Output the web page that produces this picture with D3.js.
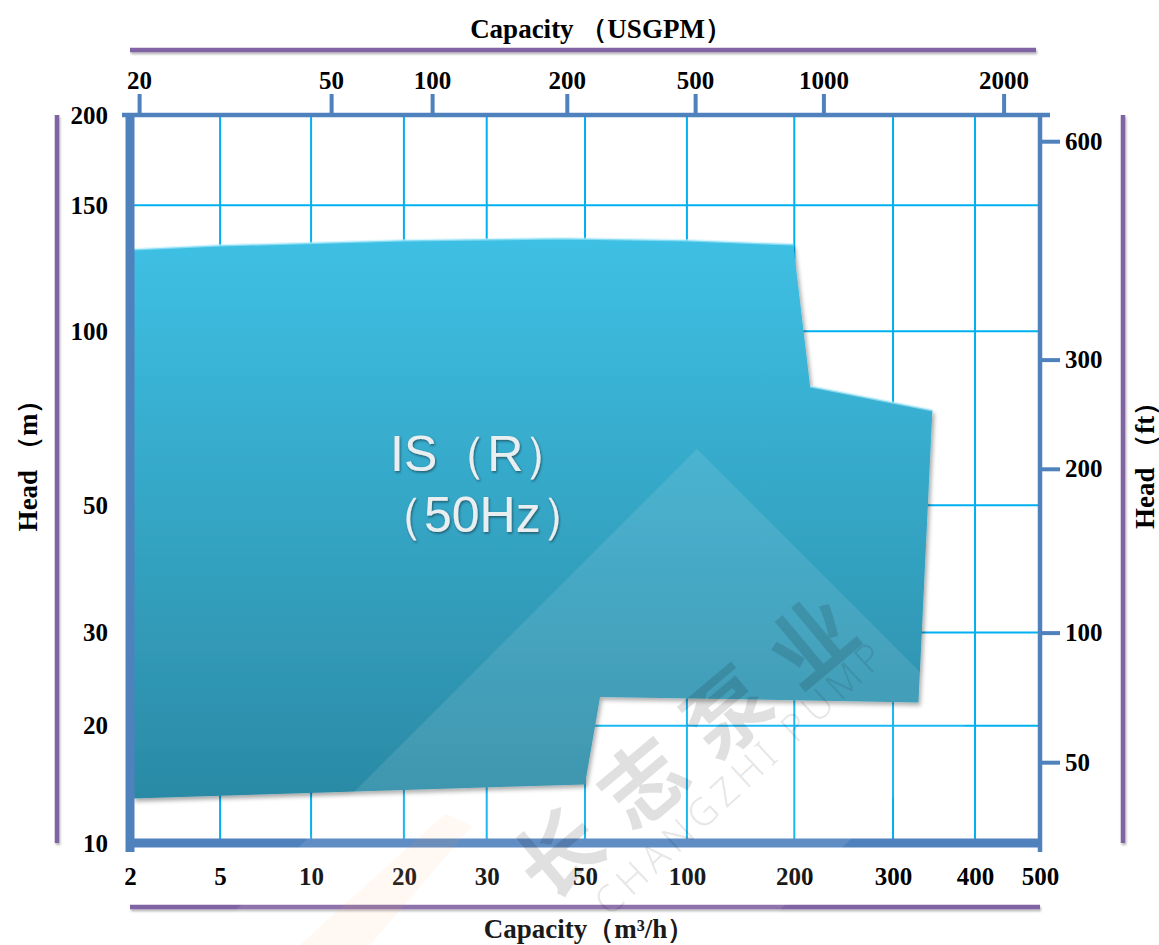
<!DOCTYPE html>
<html>
<head>
<meta charset="utf-8">
<script src="https://cdn.jsdelivr.net/npm/d3@7"></script>
<style>
body { margin: 0; background: #fff; }
.axis .tick text {
	font-family: "Liberation Serif", "Times New Roman", serif;
	font-weight: bold;
	font-size: 25px;
	fill: #000;
}
.axis-title {
	font-family: "Liberation Serif", "Times New Roman", serif;
	font-weight: bold;
	font-size: 27px;
	fill: #000;
}
</style>
</head>
<body>
<svg id="chart" width="1159" height="945"></svg>
<script>
var capacityTicks = [2, 5, 10, 20, 30, 50, 100, 200, 300, 400, 500];
var headTicks = [10, 20, 30, 50, 100, 150, 200];
var headFtTicks = [50, 100, 200, 300, 600];
var usgpmTicks = [20, 50, 100, 200, 500, 1000, 2000];

// envelope of the pump range, clockwise from top left (m3/h, m)
var envCapacity = [2.13, 5, 20, 45, 100, 199, 216, 348, 331, 57.4, 50, 2.1];
var envHead = [132.5, 134.1, 136.1, 136.9, 136.1, 134.5, 84.2, 77.3, 22.5, 23.1, 15.0, 13.8];

var modelLabel = ["IS（R）", "（50Hz）"];

var margin = {left: 130, top: 115};
var width = 910, height = 728;
var axisBlue = "#4f81bd", gridBlue = "#00b0f0", purple = "#8064a2";

// the sheet is hand drawn: ticks sit where the artist put them,
// so every scale is piecewise between its own ticks
var capStops = [0, .099, .199, .301, .392, .500, .612, .730, .8385, .9286, 1];
var headStops = [0, .161, .289, .464, .703, .876, 1];
var ftStops = [.111, .289, .514, .664, .964];
var gpmStops = [.010, .221, .332, .480, .621, .762, .960];

var x = d3.scaleLinear().domain(capacityTicks)
	.range(capStops.map(function(f){ return f * width; }));
var y = d3.scaleLinear().domain(headTicks)
	.range(headStops.map(function(f){ return height - f * height; }));
var yFt = d3.scaleLinear().domain(headFtTicks)
	.range(ftStops.map(function(f){ return height - f * height; }));
var xGpm = d3.scaleLinear().domain(usgpmTicks)
	.range(gpmStops.map(function(f){ return f * width; }));

var svg = d3.select("#chart");
var defs = svg.append("defs");

var grad = defs.append("linearGradient").attr("id", "fillGrad")
	.attr("x1", 0).attr("y1", 0).attr("x2", 0).attr("y2", 1);
grad.append("stop").attr("offset", "0%").attr("stop-color", "#3ec0e4");
grad.append("stop").attr("offset", "100%").attr("stop-color", "#2b8aa5");

var shadow = defs.append("filter").attr("id", "shadow")
	.attr("x", "-5%").attr("y", "-5%").attr("width", "110%").attr("height", "110%");
shadow.append("feDropShadow").attr("dx", 2).attr("dy", 3)
	.attr("stdDeviation", 2).attr("flood-color", "#000").attr("flood-opacity", 0.35);

// straight bars have a zero-size box, so this one works in page units
var lineShadow = defs.append("filter").attr("id", "lineShadow")
	.attr("filterUnits", "userSpaceOnUse")
	.attr("x", -200).attr("y", -200).attr("width", 1600).attr("height", 1400);
lineShadow.append("feDropShadow").attr("dx", 1).attr("dy", 2)
	.attr("stdDeviation", 1.2).attr("flood-color", "#000").attr("flood-opacity", 0.3);

var textShadow = defs.append("filter").attr("id", "textShadow");
textShadow.append("feDropShadow").attr("dx", 1).attr("dy", 1.5)
	.attr("stdDeviation", 1).attr("flood-color", "#1a4a5a").attr("flood-opacity", 0.8);

var g = svg.append("g")
	.attr("transform", "translate(" + margin.left + "," + margin.top + ")");

// grid
g.append("g").selectAll("line")
	.data(capacityTicks.slice(1, -1))
	.join("line")
	.attr("x1", function(d){ return x(d); })
	.attr("x2", function(d){ return x(d); })
	.attr("y1", 0).attr("y2", height)
	.attr("stroke", gridBlue).attr("stroke-width", 2);
g.append("g").selectAll("line")
	.data(headTicks.slice(1, -1))
	.join("line")
	.attr("y1", function(d){ return y(d); })
	.attr("y2", function(d){ return y(d); })
	.attr("x1", 0).attr("x2", width)
	.attr("stroke", gridBlue).attr("stroke-width", 2);

// envelope
var envelope = envCapacity.map(function(c, i){ return {c: c, h: envHead[i]}; });
var line = d3.line()
	.x(function(d){ return x(d.c); })
	.y(function(d){ return y(d.h); });

g.append("path")
	.attr("d", line(envelope) + "Z")
	.attr("fill", "url(#fillGrad)")
	.attr("filter", "url(#shadow)");

// bevel highlight on the upper edges
g.append("path")
	.attr("d", line(envelope.slice(0, 6)))
	.attr("fill", "none").attr("stroke", "rgba(190,240,255,0.55)").attr("stroke-width", 2.5);
g.append("path")
	.attr("d", line(envelope.slice(6, 8)))
	.attr("fill", "none").attr("stroke", "rgba(190,240,255,0.55)").attr("stroke-width", 2.5);

// model label
var label = g.append("text")
	.attr("font-family", "'Liberation Sans', Arial, sans-serif")
	.attr("font-size", 50)
	.attr("fill", "#e9eef0")
	.attr("filter", "url(#textShadow)");
label.append("tspan").attr("x", 260).attr("y", 356).text(modelLabel[0]);
label.append("tspan").attr("x", 244).attr("y", 417).text(modelLabel[1]);

// axes
var fmt = d3.format("d");

var bottomAx = g.append("g").attr("class", "axis")
	.attr("transform", "translate(0," + height + ")")
	.call(d3.axisBottom(x).tickValues(capacityTicks).tickSize(0).tickPadding(24).tickFormat(fmt));
bottomAx.select(".domain").attr("d", "M-4,0H" + width)
	.attr("stroke", axisBlue).attr("stroke-width", 9);

var leftAx = g.append("g").attr("class", "axis")
	.call(d3.axisLeft(y).tickValues(headTicks).tickSize(0).tickPadding(22).tickFormat(fmt));
leftAx.select(".domain").attr("d", "M0,-2V" + (height + 9))
	.attr("stroke", axisBlue).attr("stroke-width", 9);

var topAx = g.append("g").attr("class", "axis")
	.call(d3.axisTop(xGpm).tickValues(usgpmTicks).tickSize(21).tickSizeOuter(0).tickPadding(5).tickFormat(fmt));
topAx.select(".domain").attr("d", "M-8,0H" + (width + 10))
	.attr("stroke", axisBlue).attr("stroke-width", 4.5);
topAx.selectAll(".tick line").attr("stroke", axisBlue).attr("stroke-width", 4);

var rightAx = g.append("g").attr("class", "axis")
	.attr("transform", "translate(" + width + ",0)")
	.call(d3.axisRight(yFt).tickValues(headFtTicks).tickSize(20).tickSizeOuter(0).tickPadding(5).tickFormat(fmt));
rightAx.select(".domain").attr("d", "M0,0V" + (height + 9))
	.attr("stroke", axisBlue).attr("stroke-width", 4.5);
rightAx.selectAll(".tick line").attr("stroke", axisBlue).attr("stroke-width", 4);

// purple frame bars
var bars = [
	[0, -65, width - 4, -65],
	[0, height + 64, width, height + 64],
	[-73, 0, -73, height],
	[width + 83, 0, width + 83, height]
];
g.append("g").attr("filter", "url(#lineShadow)")
	.selectAll("line").data(bars).join("line")
	.attr("x1", function(d){ return d[0]; })
	.attr("y1", function(d){ return d[1]; })
	.attr("x2", function(d){ return d[2]; })
	.attr("y2", function(d){ return d[3]; })
	.attr("stroke", purple).attr("stroke-width", 4.5);

// axis titles
svg.append("text").attr("class", "axis-title")
	.attr("x", 601).attr("y", 38).attr("text-anchor", "middle")
	.text("Capacity （USGPM）");
svg.append("text").attr("class", "axis-title")
	.attr("x", 589).attr("y", 938).attr("text-anchor", "middle")
	.text("Capacity（m³/h）");
svg.append("text").attr("class", "axis-title")
	.attr("transform", "translate(37,459) rotate(-90)").attr("text-anchor", "middle")
	.text("Head （m）");
svg.append("text").attr("class", "axis-title")
	.attr("transform", "translate(1154,459) rotate(-90)").attr("text-anchor", "middle")
	.text("Head （ft）");

// watermark
var wm = svg.append("g").attr("pointer-events", "none");
wm.append("polygon")
	.attr("points", "697,449 969,721 745,945 201,945")
	.attr("fill", "rgba(255,255,255,0.10)");
wm.append("polygon")
	.attr("points", "300,945 445,814 472,826 370,945")
	.attr("fill", "rgba(250,160,100,0.08)");
wm.append("text")
	.attr("transform", "translate(692,735) rotate(-40)")
	.attr("text-anchor", "middle").attr("dominant-baseline", "central")
	.attr("font-family", "'Noto Sans CJK SC', sans-serif").attr("font-weight", "bold")
	.attr("font-size", 84).attr("letter-spacing", 26)
	.attr("fill", "rgba(0,0,0,0.12)")
	.text("长志泵业");
wm.append("text")
	.attr("transform", "translate(880,645) rotate(-43)")
	.attr("text-anchor", "end").attr("dominant-baseline", "central")
	.attr("font-family", "'Noto Sans', sans-serif").attr("font-weight", 300)
	.attr("font-size", 38).attr("letter-spacing", 6)
	.attr("fill", "rgba(0,0,0,0.11)")
	.text("CHANGZHI PUMP");
</script>
</body>
</html>
